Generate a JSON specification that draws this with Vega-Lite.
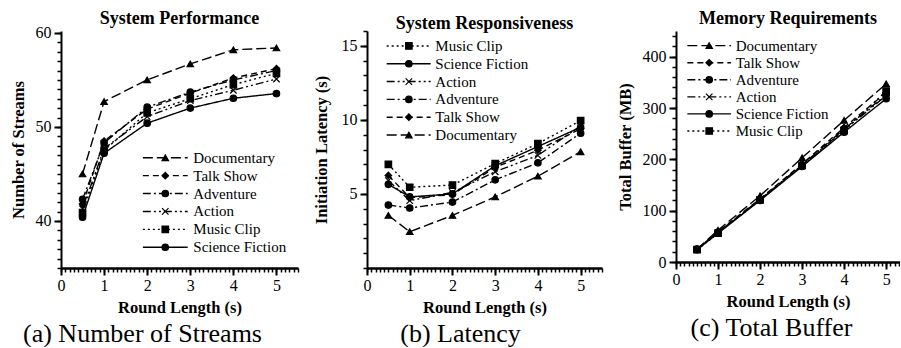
{
  "$schema": "https://vega.github.io/schema/vega-lite/v6.json",
  "padding": {"left": 10, "top": 9, "right": 0, "bottom": 0},
  "background": "white",
  "config": {
    "view": {"stroke": null},
    "font": "Liberation Serif",
    "axis": {"domainColor": "black", "domainWidth": 2, "tickColor": "black", "tickWidth": 2, "labelColor": "black", "titleColor": "black", "labelFont": "Liberation Serif", "labelFontSize": 16, "titleFont": "Liberation Serif", "titleFontSize": 16.5, "titleFontWeight": "bold", "grid": false},
    "title": {"font": "Liberation Serif", "fontSize": 18, "fontWeight": "bold", "color": "black", "anchor": "middle"},
    "text": {"font": "Liberation Serif", "fontSize": 15, "color": "black"}
  },
  "datasets": {
    "streams": [
      {"s": "Documentary", "x": 0.5, "v": 45.0}, {"s": "Documentary", "x": 1, "v": 52.7}, {"s": "Documentary", "x": 2, "v": 55.0}, {"s": "Documentary", "x": 3, "v": 56.7}, {"s": "Documentary", "x": 4, "v": 58.2}, {"s": "Documentary", "x": 5, "v": 58.4},
      {"s": "Talk Show", "x": 0.5, "v": 41.8}, {"s": "Talk Show", "x": 1, "v": 48.5}, {"s": "Talk Show", "x": 2, "v": 51.9}, {"s": "Talk Show", "x": 3, "v": 53.6}, {"s": "Talk Show", "x": 4, "v": 55.2}, {"s": "Talk Show", "x": 5, "v": 56.2},
      {"s": "Adventure", "x": 0.5, "v": 42.3}, {"s": "Adventure", "x": 1, "v": 48.3}, {"s": "Adventure", "x": 2, "v": 52.1}, {"s": "Adventure", "x": 3, "v": 53.7}, {"s": "Adventure", "x": 4, "v": 55.0}, {"s": "Adventure", "x": 5, "v": 56.0},
      {"s": "Action", "x": 0.5, "v": 41.3}, {"s": "Action", "x": 1, "v": 47.7}, {"s": "Action", "x": 2, "v": 51.1}, {"s": "Action", "x": 3, "v": 52.8}, {"s": "Action", "x": 4, "v": 53.9}, {"s": "Action", "x": 5, "v": 55.1},
      {"s": "Music Clip", "x": 0.5, "v": 40.9}, {"s": "Music Clip", "x": 1, "v": 47.5}, {"s": "Music Clip", "x": 2, "v": 51.5}, {"s": "Music Clip", "x": 3, "v": 53.0}, {"s": "Music Clip", "x": 4, "v": 54.5}, {"s": "Music Clip", "x": 5, "v": 55.7},
      {"s": "Science Fiction", "x": 0.5, "v": 40.4}, {"s": "Science Fiction", "x": 1, "v": 47.2}, {"s": "Science Fiction", "x": 2, "v": 50.4}, {"s": "Science Fiction", "x": 3, "v": 52.0}, {"s": "Science Fiction", "x": 4, "v": 53.05}, {"s": "Science Fiction", "x": 5, "v": 53.55}
    ],
    "latency": [
      {"s": "Music Clip", "x": 0.5, "v": 7.0}, {"s": "Music Clip", "x": 1, "v": 5.45}, {"s": "Music Clip", "x": 2, "v": 5.6}, {"s": "Music Clip", "x": 3, "v": 7.05}, {"s": "Music Clip", "x": 4, "v": 8.4}, {"s": "Music Clip", "x": 5, "v": 9.95},
      {"s": "Science Fiction", "x": 0.5, "v": 5.65}, {"s": "Science Fiction", "x": 1, "v": 4.8}, {"s": "Science Fiction", "x": 2, "v": 5.0}, {"s": "Science Fiction", "x": 3, "v": 6.9}, {"s": "Science Fiction", "x": 4, "v": 8.2}, {"s": "Science Fiction", "x": 5, "v": 9.5},
      {"s": "Action", "x": 0.5, "v": 5.9}, {"s": "Action", "x": 1, "v": 4.55}, {"s": "Action", "x": 2, "v": 5.1}, {"s": "Action", "x": 3, "v": 6.5}, {"s": "Action", "x": 4, "v": 7.6}, {"s": "Action", "x": 5, "v": 9.6},
      {"s": "Adventure", "x": 0.5, "v": 4.25}, {"s": "Adventure", "x": 1, "v": 4.05}, {"s": "Adventure", "x": 2, "v": 4.45}, {"s": "Adventure", "x": 3, "v": 5.95}, {"s": "Adventure", "x": 4, "v": 7.1}, {"s": "Adventure", "x": 5, "v": 9.1},
      {"s": "Talk Show", "x": 0.5, "v": 6.25}, {"s": "Talk Show", "x": 1, "v": 4.75}, {"s": "Talk Show", "x": 2, "v": 4.95}, {"s": "Talk Show", "x": 3, "v": 6.8}, {"s": "Talk Show", "x": 4, "v": 7.95}, {"s": "Talk Show", "x": 5, "v": 9.4},
      {"s": "Documentary", "x": 0.5, "v": 3.55}, {"s": "Documentary", "x": 1, "v": 2.45}, {"s": "Documentary", "x": 2, "v": 3.55}, {"s": "Documentary", "x": 3, "v": 4.8}, {"s": "Documentary", "x": 4, "v": 6.2}, {"s": "Documentary", "x": 5, "v": 7.85}
    ],
    "buffer": [
      {"s": "Documentary", "x": 0.5, "v": 25}, {"s": "Documentary", "x": 1, "v": 62}, {"s": "Documentary", "x": 2, "v": 129}, {"s": "Documentary", "x": 3, "v": 203}, {"s": "Documentary", "x": 4, "v": 276}, {"s": "Documentary", "x": 5, "v": 347},
      {"s": "Talk Show", "x": 0.5, "v": 25}, {"s": "Talk Show", "x": 1, "v": 59}, {"s": "Talk Show", "x": 2, "v": 123}, {"s": "Talk Show", "x": 3, "v": 191}, {"s": "Talk Show", "x": 4, "v": 262}, {"s": "Talk Show", "x": 5, "v": 330},
      {"s": "Adventure", "x": 0.5, "v": 25}, {"s": "Adventure", "x": 1, "v": 58}, {"s": "Adventure", "x": 2, "v": 122}, {"s": "Adventure", "x": 3, "v": 189}, {"s": "Adventure", "x": 4, "v": 259}, {"s": "Adventure", "x": 5, "v": 326},
      {"s": "Action", "x": 0.5, "v": 24}, {"s": "Action", "x": 1, "v": 57}, {"s": "Action", "x": 2, "v": 121}, {"s": "Action", "x": 3, "v": 188}, {"s": "Action", "x": 4, "v": 257}, {"s": "Action", "x": 5, "v": 324},
      {"s": "Science Fiction", "x": 0.5, "v": 24}, {"s": "Science Fiction", "x": 1, "v": 56}, {"s": "Science Fiction", "x": 2, "v": 120}, {"s": "Science Fiction", "x": 3, "v": 186}, {"s": "Science Fiction", "x": 4, "v": 253}, {"s": "Science Fiction", "x": 5, "v": 318},
      {"s": "Music Clip", "x": 0.5, "v": 24}, {"s": "Music Clip", "x": 1, "v": 56}, {"s": "Music Clip", "x": 2, "v": 121}, {"s": "Music Clip", "x": 3, "v": 188}, {"s": "Music Clip", "x": 4, "v": 256}, {"s": "Music Clip", "x": 5, "v": 333}
    ],
    "legA": [{"s": "Documentary", "r": 0}, {"s": "Talk Show", "r": 1}, {"s": "Adventure", "r": 2}, {"s": "Action", "r": 3}, {"s": "Music Clip", "r": 4}, {"s": "Science Fiction", "r": 5}],
    "legB": [{"s": "Music Clip", "r": 0}, {"s": "Science Fiction", "r": 1}, {"s": "Action", "r": 2}, {"s": "Adventure", "r": 3}, {"s": "Talk Show", "r": 4}, {"s": "Documentary", "r": 5}],
    "legC": [{"s": "Documentary", "r": 0}, {"s": "Talk Show", "r": 1}, {"s": "Adventure", "r": 2}, {"s": "Action", "r": 3}, {"s": "Science Fiction", "r": 4}, {"s": "Music Clip", "r": 5}]
  },
  "spacing": 14,
  "resolve": {"scale": {"shape": "independent", "strokeDash": "independent"}, "legend": {"shape": "independent", "strokeDash": "independent"}},
  "hconcat": [
    {
      "title": {"text": "System Performance", "offset": -3},
      "width": 237, "height": 237,
      "data": {"name": "streams"},
      "resolve": {"axis": {"x": "independent", "y": "independent"}, "scale": {"y": "independent"}},
      "layer": [
        {
          "mark": {"type": "line", "color": "black", "strokeWidth": 1.4},
          "encoding": {
            "x": {"field": "x", "type": "quantitative", "scale": {"domain": [0, 5.5], "nice": false, "zero": false},
              "axis": {"title": "Round Length (s)", "orient": "bottom", "values": [0,1,2,3,4,5], "format": "d", "labelOverlap": false, "labelFlush": false, "tickSize": 7, "domainWidth": 2.5, "labelPadding": 2, "titlePadding": 6}},
            "y": {"field": "v", "type": "quantitative", "scale": {"domain": [35, 60.2], "nice": false, "zero": false},
              "axis": {"title": "Number of Streams", "orient": "left", "values": [40,50,60], "format": "d", "labelOverlap": false, "labelFlush": false, "tickSize": 7, "labelPadding": 3, "titlePadding": 9}},
            "strokeDash": {"field": "s", "type": "nominal", "legend": null,
              "scale": {"domain": ["Documentary", "Talk Show", "Adventure", "Action", "Music Clip", "Science Fiction"], "range": [[10,4],[6,4],[8,3,2,3],[8,3,2,3,2,3],[2,3],[1,0]]}}
          }
        },
        {
          "mark": {"type": "point", "filled": true, "fill": "black", "stroke": "black", "strokeWidth": 1.2, "size": 42, "opacity": 1},
          "encoding": {
            "x": {"field": "x", "type": "quantitative",
              "axis": {"orient": "bottom", "labels": false, "domain": false, "tickSize": 4, "tickWidth": 1.5, "values": [0,0.1,0.2,0.3,0.4,0.5,0.6,0.7,0.8,0.9,1,1.1,1.2,1.3,1.4,1.5,1.6,1.7,1.8,1.9,2,2.1,2.2,2.3,2.4,2.5,2.6,2.7,2.8,2.9,3,3.1,3.2,3.3,3.4,3.5,3.6,3.7,3.8,3.9,4,4.1,4.2,4.3,4.4,4.5,4.6,4.7,4.8,4.9,5,5.1,5.2,5.3,5.4,5.5],
                "title": "(a) Number of Streams", "titleFont": "Liberation Serif", "titleFontSize": 26, "titleFontWeight": "normal", "titlePadding": 48, "titleX": 81, "titleAlign": "center"}},
            "y": {"field": "v", "type": "quantitative", "scale": {"domain": [35, 60.2], "nice": false, "zero": false},
              "axis": {"title": null, "orient": "left", "labels": false, "domain": false, "tickSize": 4, "tickWidth": 1.5, "values": [35,36,37,38,39,40,41,42,43,44,45,46,47,48,49,50,51,52,53,54,55,56,57,58,59,60]}},
            "shape": {"field": "s", "type": "nominal", "legend": null,
              "scale": {"domain": ["Documentary", "Talk Show", "Adventure", "Action", "Music Clip", "Science Fiction"], "range": ["triangle-up", "diamond", "circle", "M-1,-1L1,1M-1,1L1,-1", "square", "circle"]}}
          }
        },
        {
          "data": {"name": "legA"},
          "mark": {"type": "rule", "color": "black", "strokeWidth": 1.4},
          "encoding": {
            "x": {"datum": 1.9, "type": "quantitative", "axis": null},
            "x2": {"datum": 2.94},
            "y": {"field": "r", "type": "quantitative", "scale": {"domain": [-7.08, 6.16], "reverse": true, "nice": false, "zero": false}, "axis": null},
            "strokeDash": {"field": "s", "type": "nominal", "legend": null}
          }
        },
        {
          "data": {"name": "legA"},
          "mark": {"type": "point", "filled": true, "fill": "black", "stroke": "black", "strokeWidth": 1.2, "size": 42, "opacity": 1},
          "encoding": {
            "x": {"datum": 2.42, "type": "quantitative", "axis": null},
            "y": {"field": "r", "type": "quantitative", "scale": {"domain": [-7.08, 6.16], "reverse": true, "nice": false, "zero": false}, "axis": null},
            "shape": {"field": "s", "type": "nominal", "legend": null}
          }
        },
        {
          "data": {"name": "legA"},
          "mark": {"type": "text", "align": "left", "baseline": "middle", "font": "Liberation Serif", "fontSize": 15, "color": "black"},
          "encoding": {
            "x": {"datum": 3.07, "type": "quantitative", "axis": null},
            "y": {"field": "r", "type": "quantitative", "scale": {"domain": [-7.08, 6.16], "reverse": true, "nice": false, "zero": false}, "axis": null},
            "text": {"field": "s", "type": "nominal"}
          }
        }
      ]
    },
    {
      "title": {"text": "System Responsiveness", "offset": -3},
      "width": 235, "height": 237,
      "data": {"name": "latency"},
      "resolve": {"axis": {"x": "independent", "y": "independent"}, "scale": {"y": "independent"}},
      "layer": [
        {
          "mark": {"type": "line", "color": "black", "strokeWidth": 1.4},
          "encoding": {
            "x": {"field": "x", "type": "quantitative", "scale": {"domain": [0, 5.5], "nice": false, "zero": false},
              "axis": {"title": "Round Length (s)", "orient": "bottom", "values": [0,1,2,3,4,5], "format": "d", "labelOverlap": false, "labelFlush": false, "tickSize": 7, "domainWidth": 2.5, "labelPadding": 2, "titlePadding": 6}},
            "y": {"field": "v", "type": "quantitative", "scale": {"domain": [0, 16], "nice": false, "zero": false},
              "axis": {"title": "Initiation Latency (s)", "orient": "left", "values": [5,10,15], "format": "d", "labelOverlap": false, "labelFlush": false, "tickSize": 7, "labelPadding": 3, "titlePadding": 12}},
            "strokeDash": {"field": "s", "type": "nominal", "legend": null,
              "scale": {"domain": ["Music Clip", "Science Fiction", "Action", "Adventure", "Talk Show", "Documentary"], "range": [[2,3],[1,0],[8,3,2,3,2,3],[8,3,2,3],[6,4],[10,4]]}}
          }
        },
        {
          "mark": {"type": "point", "filled": true, "fill": "black", "stroke": "black", "strokeWidth": 1.2, "size": 42, "opacity": 1},
          "encoding": {
            "x": {"field": "x", "type": "quantitative",
              "axis": {"orient": "bottom", "labels": false, "domain": false, "tickSize": 4, "tickWidth": 1.5, "values": [0,0.1,0.2,0.3,0.4,0.5,0.6,0.7,0.8,0.9,1,1.1,1.2,1.3,1.4,1.5,1.6,1.7,1.8,1.9,2,2.1,2.2,2.3,2.4,2.5,2.6,2.7,2.8,2.9,3,3.1,3.2,3.3,3.4,3.5,3.6,3.7,3.8,3.9,4,4.1,4.2,4.3,4.4,4.5,4.6,4.7,4.8,4.9,5,5.1,5.2,5.3,5.4,5.5],
                "title": "(b) Latency", "titleFont": "Liberation Serif", "titleFontSize": 26, "titleFontWeight": "normal", "titlePadding": 48, "titleX": 93, "titleAlign": "center"}},
            "y": {"field": "v", "type": "quantitative", "scale": {"domain": [0, 16], "nice": false, "zero": false},
              "axis": {"title": null, "orient": "left", "labels": false, "domain": false, "tickSize": 4, "tickWidth": 1.5, "values": [0,1,2,3,4,5,6,7,8,9,10,11,12,13,14,15,16]}},
            "shape": {"field": "s", "type": "nominal", "legend": null,
              "scale": {"domain": ["Music Clip", "Science Fiction", "Action", "Adventure", "Talk Show", "Documentary"], "range": ["square", "circle", "M-1,-1L1,1M-1,1L1,-1", "circle", "diamond", "triangle-up"]}}
          }
        },
        {
          "data": {"name": "legB"},
          "mark": {"type": "rule", "color": "black", "strokeWidth": 1.4},
          "encoding": {
            "x": {"datum": 0.46, "type": "quantitative", "axis": null},
            "x2": {"datum": 1.49},
            "y": {"field": "r", "type": "quantitative", "scale": {"domain": [-0.84, 12.47], "reverse": true, "nice": false, "zero": false}, "axis": null},
            "strokeDash": {"field": "s", "type": "nominal", "legend": null}
          }
        },
        {
          "data": {"name": "legB"},
          "mark": {"type": "point", "filled": true, "fill": "black", "stroke": "black", "strokeWidth": 1.2, "size": 42, "opacity": 1},
          "encoding": {
            "x": {"datum": 0.98, "type": "quantitative", "axis": null},
            "y": {"field": "r", "type": "quantitative", "scale": {"domain": [-0.84, 12.47], "reverse": true, "nice": false, "zero": false}, "axis": null},
            "shape": {"field": "s", "type": "nominal", "legend": null}
          }
        },
        {
          "data": {"name": "legB"},
          "mark": {"type": "text", "align": "left", "baseline": "middle", "font": "Liberation Serif", "fontSize": 15, "color": "black"},
          "encoding": {
            "x": {"datum": 1.6, "type": "quantitative", "axis": null},
            "y": {"field": "r", "type": "quantitative", "scale": {"domain": [-0.84, 12.47], "reverse": true, "nice": false, "zero": false}, "axis": null},
            "text": {"field": "s", "type": "nominal"}
          }
        }
      ]
    },
    {
      "title": {"text": "Memory Requirements", "offset": 3},
      "width": 224, "height": 231,
      "data": {"name": "buffer"},
      "resolve": {"axis": {"x": "independent", "y": "independent"}, "scale": {"y": "independent"}},
      "layer": [
        {
          "mark": {"type": "line", "color": "black", "strokeWidth": 1.4},
          "encoding": {
            "x": {"field": "x", "type": "quantitative", "scale": {"domain": [0, 5.33], "nice": false, "zero": false},
              "axis": {"title": "Round Length (s)", "orient": "bottom", "values": [0,1,2,3,4,5], "format": "d", "labelOverlap": false, "labelFlush": false, "tickSize": 7, "domainWidth": 2.5, "labelPadding": 2, "titlePadding": 6}},
            "y": {"field": "v", "type": "quantitative", "scale": {"domain": [0, 450], "nice": false, "zero": false},
              "axis": {"title": "Total Buffer (MB)", "orient": "left", "values": [0,100,200,300,400], "format": "d", "labelOverlap": false, "labelFlush": false, "tickSize": 7, "labelPadding": 3, "titlePadding": 9}},
            "strokeDash": {"field": "s", "type": "nominal", "legend": null,
              "scale": {"domain": ["Documentary", "Talk Show", "Adventure", "Action", "Science Fiction", "Music Clip"], "range": [[10,4],[6,4],[8,3,2,3],[8,3,2,3,2,3],[1,0],[2,3]]}}
          }
        },
        {
          "mark": {"type": "point", "filled": true, "fill": "black", "stroke": "black", "strokeWidth": 1.2, "size": 42, "opacity": 1},
          "encoding": {
            "x": {"field": "x", "type": "quantitative",
              "axis": {"orient": "bottom", "labels": false, "domain": false, "tickSize": 4, "tickWidth": 1.5, "values": [0,0.1,0.2,0.3,0.4,0.5,0.6,0.7,0.8,0.9,1,1.1,1.2,1.3,1.4,1.5,1.6,1.7,1.8,1.9,2,2.1,2.2,2.3,2.4,2.5,2.6,2.7,2.8,2.9,3,3.1,3.2,3.3,3.4,3.5,3.6,3.7,3.8,3.9,4,4.1,4.2,4.3,4.4,4.5,4.6,4.7,4.8,4.9,5,5.1,5.2,5.3],
                "title": "(c) Total Buffer", "titleFont": "Liberation Serif", "titleFontSize": 26, "titleFontWeight": "normal", "titlePadding": 48, "titleX": 95, "titleAlign": "center"}},
            "y": {"field": "v", "type": "quantitative", "scale": {"domain": [0, 450], "nice": false, "zero": false},
              "axis": {"title": null, "orient": "left", "labels": false, "domain": false, "tickSize": 4, "tickWidth": 1.5, "values": [0,20,40,60,80,100,120,140,160,180,200,220,240,260,280,300,320,340,360,380,400,420,440]}},
            "shape": {"field": "s", "type": "nominal", "legend": null,
              "scale": {"domain": ["Documentary", "Talk Show", "Adventure", "Action", "Science Fiction", "Music Clip"], "range": ["triangle-up", "diamond", "circle", "M-1,-1L1,1M-1,1L1,-1", "circle", "square"]}}
          }
        },
        {
          "data": {"name": "legC"},
          "mark": {"type": "rule", "color": "black", "strokeWidth": 1.4},
          "encoding": {
            "x": {"datum": 0.27, "type": "quantitative", "axis": null},
            "x2": {"datum": 1.31},
            "y": {"field": "r", "type": "quantitative", "scale": {"domain": [-0.86, 12.68], "reverse": true, "nice": false, "zero": false}, "axis": null},
            "strokeDash": {"field": "s", "type": "nominal", "legend": null}
          }
        },
        {
          "data": {"name": "legC"},
          "mark": {"type": "point", "filled": true, "fill": "black", "stroke": "black", "strokeWidth": 1.2, "size": 42, "opacity": 1},
          "encoding": {
            "x": {"datum": 0.79, "type": "quantitative", "axis": null},
            "y": {"field": "r", "type": "quantitative", "scale": {"domain": [-0.86, 12.68], "reverse": true, "nice": false, "zero": false}, "axis": null},
            "shape": {"field": "s", "type": "nominal", "legend": null}
          }
        },
        {
          "data": {"name": "legC"},
          "mark": {"type": "text", "align": "left", "baseline": "middle", "font": "Liberation Serif", "fontSize": 15, "color": "black"},
          "encoding": {
            "x": {"datum": 1.42, "type": "quantitative", "axis": null},
            "y": {"field": "r", "type": "quantitative", "scale": {"domain": [-0.86, 12.68], "reverse": true, "nice": false, "zero": false}, "axis": null},
            "text": {"field": "s", "type": "nominal"}
          }
        }
      ]
    }
  ]
}
